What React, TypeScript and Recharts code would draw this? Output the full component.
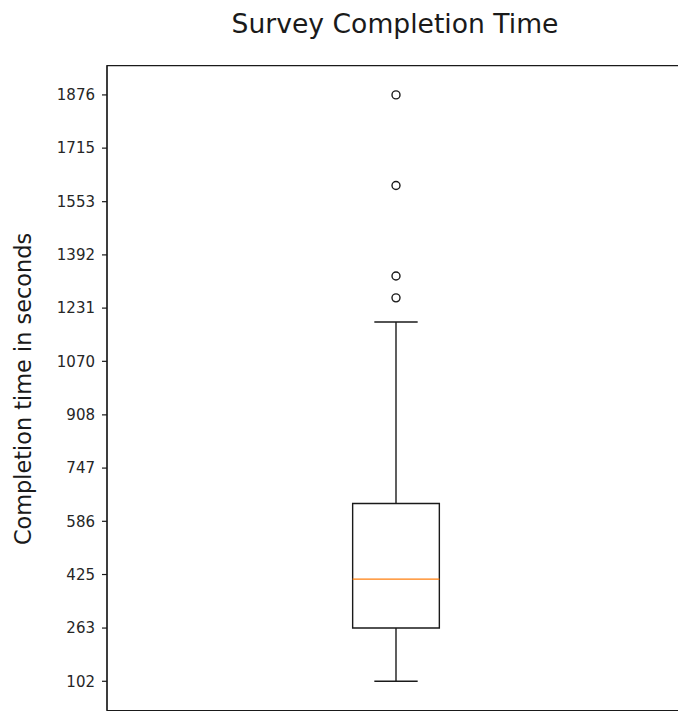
import React from 'react';
import {
  ComposedChart,
  XAxis,
  YAxis,
  Scatter,
  ReferenceArea,
  ReferenceLine,
} from 'recharts';

// ---- data ----
const boxPositions = [1];
const boxStats = [102, 263, 411, 640, 1189]; // low whisker, Q1, median, Q3, high whisker
const outlierValues = [1262, 1328, 1602, 1876];
const yTicks = [102, 263, 425, 586, 747, 908, 1070, 1231, 1392, 1553, 1715, 1876];

const TITLE = 'Survey Completion Time';
const Y_LABEL = 'Completion time in seconds';

// ---- derived layout helpers ----
const FONT = "'DejaVu Sans', 'Liberation Sans', sans-serif";
const dataMin = Math.min(...boxStats, ...outlierValues);
const dataMax = Math.max(...boxStats, ...outlierValues);
const pad = (dataMax - dataMin) * 0.05;
const yDomain: [number, number] = [dataMin - pad, dataMax + pad];
const xDomain: [number, number] = [0.5, 1.5];
const BOX_HALF = 0.075;
const CAP_HALF = 0.0375;
const LINE = '#1a1a1a';
const LW = 1.4;

const pos = boxPositions[0];
const [wLow, q1, med, q3, wHigh] = boxStats;
const outlierData = outlierValues.map((v) => ({ x: pos, y: v }));

const OutlierShape = (props: any) => (
  <circle cx={props.cx} cy={props.cy} r={4} fill="none" stroke={LINE} strokeWidth={LW} />
);

export default function App() {
  return (
    <div
      style={{
        position: 'absolute',
        left: 0,
        top: 0,
        width: 678,
        height: 711,
        overflow: 'hidden',
        background: '#fff',
        fontFamily: FONT,
      }}
    >
      <div
        style={{
          position: 'absolute',
          left: 395,
          top: 11,
          transform: 'translateX(-50%)',
          fontSize: 26.6,
          lineHeight: '26px',
          whiteSpace: 'nowrap',
          color: '#1a1a1a',
        }}
      >
        {TITLE}
      </div>
      <div
        style={{
          position: 'absolute',
          left: 23,
          top: 389,
          transform: 'translate(-50%, -50%) rotate(-90deg)',
          fontSize: 22.4,
          lineHeight: '22px',
          whiteSpace: 'nowrap',
          color: '#1a1a1a',
        }}
      >
        {Y_LABEL}
      </div>
      <ComposedChart
        width={686}
        height={711}
        margin={{ top: 65.6, right: 1, bottom: 0.4, left: 0 }}
        style={{ position: 'absolute', left: 0, top: 0 }}
      >
        <XAxis
          type="number"
          dataKey="x"
          domain={xDomain}
          allowDataOverflow
          hide
        />
        <YAxis
          type="number"
          dataKey="y"
          domain={yDomain}
          allowDataOverflow
          ticks={yTicks}
          interval={0}
          width={107}
          tickSize={5}
          tickMargin={7}
          axisLine={{ stroke: LINE, strokeWidth: 1.2 }}
          tickLine={{ stroke: LINE, strokeWidth: 1.2 }}
          tick={{ fill: '#262626', fontSize: 15, fontFamily: FONT }}
        />
        <ReferenceArea
          x1={xDomain[0]}
          x2={xDomain[1]}
          y1={yDomain[0]}
          y2={yDomain[1]}
          fill="none"
          stroke={LINE}
          strokeWidth={1.2}
          ifOverflow="visible"
        />
        {/* whiskers */}
        <ReferenceLine
          segment={[{ x: pos, y: wLow }, { x: pos, y: q1 }]}
          stroke={LINE}
          strokeWidth={LW}
        />
        <ReferenceLine
          segment={[{ x: pos, y: q3 }, { x: pos, y: wHigh }]}
          stroke={LINE}
          strokeWidth={LW}
        />
        {/* caps */}
        <ReferenceLine
          segment={[{ x: pos - CAP_HALF, y: wLow }, { x: pos + CAP_HALF, y: wLow }]}
          stroke={LINE}
          strokeWidth={LW}
        />
        <ReferenceLine
          segment={[{ x: pos - CAP_HALF, y: wHigh }, { x: pos + CAP_HALF, y: wHigh }]}
          stroke={LINE}
          strokeWidth={LW}
        />
        {/* box */}
        <ReferenceArea
          x1={pos - BOX_HALF}
          x2={pos + BOX_HALF}
          y1={q1}
          y2={q3}
          fill="#fff"
          fillOpacity={1}
          stroke={LINE}
          strokeWidth={LW}
        />
        {/* median */}
        <ReferenceLine
          segment={[{ x: pos - BOX_HALF, y: med }, { x: pos + BOX_HALF, y: med }]}
          stroke="#ff7f0e"
          strokeWidth={LW}
        />
        <Scatter
          data={outlierData}
          dataKey="y"
          shape={OutlierShape}
          isAnimationActive={false}
        />
      </ComposedChart>
    </div>
  );
}
